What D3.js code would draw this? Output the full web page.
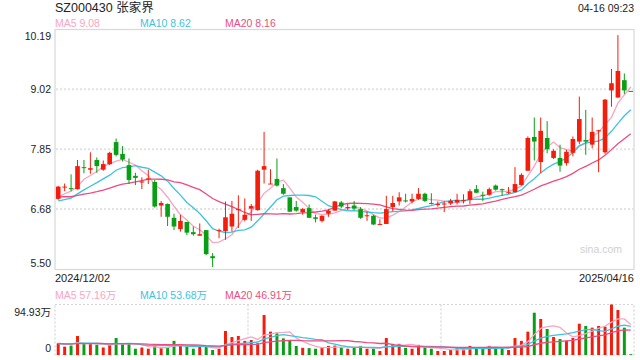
<!DOCTYPE html>
<html>
<head>
<meta charset="utf-8">
<script src="https://cdn.jsdelivr.net/npm/d3@7"></script>
<style>
  body { margin: 0; background: #fff; }
  svg { display: block; font-family: "Liberation Sans", Arial, "Noto Sans CJK SC", sans-serif; }
</style>
</head>
<body>
<svg id="chart"></svg>
<script>
// daily bars 2024/12/02 .. 2025/04/16 (90 sessions)
const open = [6.88, 7.10, 7.09, 7.07, 7.50, 7.45, 7.64, 7.45, 7.56, 7.99,
  7.76, 7.54, 7.33, 7.20, 7.26, 7.21, 6.75, 6.78, 6.51, 6.29,
  6.43, 6.23, 6.16, 6.27, 5.76, 6.25, 6.25, 6.34, 6.66, 6.47,
  6.69, 6.66, 7.45, 7.17, 7.27, 7.09, 6.91, 6.72, 6.62, 6.70,
  6.52, 6.45, 6.59, 6.65, 6.81, 6.71, 6.75, 6.68, 6.54, 6.55,
  6.38, 6.39, 6.72, 6.83, 6.85, 6.83, 6.88, 6.98, 6.80, 6.76,
  6.78, 6.79, 6.81, 6.85, 6.86, 7.07, 6.96, 6.96, 7.14, 7.07,
  7.00, 7.01, 7.15, 7.43, 8.09, 7.60, 8.07, 7.68, 7.68, 7.58,
  7.78, 8.00, 8.03, 7.94, 8.21, 7.79, 9.00, 8.86, 9.20, 8.99];
const high = [7.13, 7.18, 7.36, 7.64, 7.64, 7.79, 7.69, 7.63, 7.80, 8.06,
  7.91, 7.67, 7.39, 7.30, 7.45, 7.25, 6.84, 6.79, 6.59, 6.57,
  6.43, 6.34, 6.40, 6.27, 5.82, 6.30, 6.83, 6.84, 6.95, 6.89,
  6.78, 7.45, 8.19, 7.46, 7.67, 7.17, 6.91, 6.84, 6.70, 6.77,
  6.57, 6.56, 6.68, 6.84, 6.84, 6.78, 6.84, 6.72, 6.63, 6.57,
  6.48, 6.94, 6.94, 7.01, 6.98, 6.98, 7.09, 7.00, 6.99, 6.83,
  6.83, 6.88, 6.98, 6.97, 7.07, 7.15, 7.02, 7.10, 7.16, 7.08,
  7.11, 7.50, 7.38, 8.10, 8.47, 8.47, 8.40, 7.85, 7.94, 7.84,
  8.10, 8.88, 8.62, 8.47, 8.23, 8.83, 9.42, 10.08, 9.33, 8.99];
const low = [6.86, 7.03, 7.03, 7.06, 7.38, 7.37, 7.39, 7.43, 7.54, 7.71,
  7.61, 7.17, 7.15, 7.07, 7.17, 6.71, 6.53, 6.35, 6.27, 6.24,
  6.17, 6.16, 6.16, 5.78, 5.55, 6.11, 6.08, 6.24, 6.31, 6.44,
  6.45, 6.65, 7.18, 7.17, 7.12, 6.96, 6.62, 6.63, 6.57, 6.51,
  6.42, 6.42, 6.53, 6.65, 6.70, 6.66, 6.66, 6.49, 6.45, 6.37,
  6.38, 6.39, 6.64, 6.75, 6.81, 6.79, 6.86, 6.82, 6.77, 6.73,
  6.62, 6.76, 6.77, 6.79, 6.78, 6.99, 6.84, 6.94, 7.04, 6.94,
  6.98, 7.01, 7.14, 7.43, 7.63, 7.38, 7.77, 7.66, 7.41, 7.53,
  7.71, 7.95, 7.74, 7.87, 7.40, 7.76, 8.68, 8.86, 8.93, 8.99];
const close = [7.12, 7.12, 7.07, 7.52, 7.49, 7.48, 7.52, 7.56, 7.78, 7.74,
  7.65, 7.25, 7.29, 7.22, 7.28, 6.73, 6.80, 6.53, 6.34, 6.45,
  6.22, 6.19, 6.19, 5.80, 5.72, 6.27, 6.52, 6.59, 6.68, 6.57,
  6.74, 7.43, 7.52, 7.18, 7.14, 6.98, 6.63, 6.65, 6.68, 6.51,
  6.49, 6.55, 6.65, 6.83, 6.73, 6.72, 6.69, 6.51, 6.56, 6.38,
  6.39, 6.68, 6.80, 6.91, 6.83, 6.88, 6.98, 6.84, 6.79, 6.78,
  6.79, 6.84, 6.86, 6.86, 7.03, 7.00, 6.94, 7.07, 7.06, 7.05,
  7.01, 7.17, 7.35, 8.07, 8.00, 8.21, 7.85, 7.82, 7.53, 7.80,
  8.05, 8.44, 8.00, 8.19, 8.22, 8.82, 9.14, 9.38, 9.00, 8.99];
// volume in 万 shares
const volume = [22.0, 15.7, 17.7, 35.7, 20.3, 20.3, 19.1, 14.1, 19.1, 31.9,
  20.3, 21.0, 11.8, 14.1, 11.8, 17.7, 12.9, 14.1, 26.6, 20.3,
  15.7, 11.8, 15.7, 15.7, 9.4, 11.8, 45.1, 33.8, 35.7, 26.6,
  28.2, 22.0, 75.2, 43.9, 40.7, 31.3, 26.6, 17.1, 13.5, 12.9,
  11.8, 14.1, 17.1, 17.7, 14.1, 11.8, 14.1, 17.1, 11.8, 11.8,
  7.5, 31.9, 21.0, 21.0, 13.5, 11.8, 19.1, 14.1, 11.8, 7.5,
  7.5, 9.4, 12.9, 11.8, 17.1, 14.1, 14.1, 17.1, 12.9, 12.9,
  9.4, 31.9, 26.6, 43.9, 79.5, 67.7, 48.9, 33.8, 30.0, 26.6,
  31.9, 58.8, 54.5, 51.4, 54.5, 53.3, 94.93, 84.6, 51.4, 1.6];
// sessions before the window, only used to warm up the averages
const prevClose = [7.05, 7.10, 7.02, 6.96, 7.08, 6.98, 6.93, 6.97, 6.95, 6.96,
  6.85, 6.78, 6.70, 6.72, 6.75, 6.82, 6.82, 7.07, 6.77];
const prevVolume = [21.5, 18.0, 24.2, 19.6, 22.8, 17.4, 20.1, 25.3, 18.9, 21.7,
  23.4, 19.2, 16.8, 22.1, 20.6, 24.8, 18.3, 21.2, 26.0];

const priceTicks = [10.19, 9.02, 7.85, 6.68, 5.50];
const volTicks = [94.93, 0];
const dateLabels = ['2024/12/02', '2025/04/16'];
const maPeriods = [5, 10, 20];
const maColors = ['#f8a5c2', '#3ec3df', '#ec4d80'];
const priceLegend = ['9.08', '8.62', '8.16'];
const volLegend = ['57.16万', '53.68万', '46.91万'];

const red = '#f41d0b';
const green = '#099f14';
const width = 640;
const height = 360;
const left = 55;
const right = 634;
const price = { top: 29.5, bottom: 269.5 };
const vol = { top: 304.5, bottom: 355 };

const svg = d3.select('#chart').attr('width', width).attr('height', height);

const idx = d3.range(close.length);
const x = d3.scaleBand().domain(idx).range([left, right]);
const cx = (i) => x(i) + x.bandwidth() / 2;
const y = d3.scaleLinear().domain([5.50, 10.19]).range([price.bottom, price.top]);
const yv = d3.scaleLinear().domain([0, 94.93]).range([vol.bottom, vol.top]);

const isUp = (i) => close[i] > open[i] || (close[i] === open[i] && i > 0 && close[i] > close[i - 1]);

function movingAvg(values, prev, n) {
  const all = prev.concat(values);
  return values.map((v, i) => d3.mean(all.slice(prev.length + i - n + 1, prev.length + i + 1)));
}

// header
svg.append('text').attr('x', left).attr('y', 12)
  .attr('font-size', 12.5).attr('fill', '#222').text('SZ000430 张家界');
svg.append('text').attr('x', right).attr('y', 12).attr('text-anchor', 'end')
  .attr('font-size', 10.5).attr('fill', '#222').text('04-16 09:23');

const legendX = [left, 140, 225];
maPeriods.forEach((p, k) => {
  svg.append('text').attr('x', legendX[k]).attr('y', 27).attr('font-size', 10.5)
    .attr('fill', maColors[k]).text(`MA${p} ${priceLegend[k]}`);
  svg.append('text').attr('x', legendX[k]).attr('y', 299).attr('font-size', 10.5)
    .attr('fill', maColors[k]).text(`MA${p} ${volLegend[k]}`);
});

// price panel frame + grid
svg.append('rect').attr('x', left).attr('y', price.top)
  .attr('width', right - left).attr('height', price.bottom - price.top)
  .attr('fill', 'none').attr('stroke', '#d8d8d8').attr('stroke-width', 1.2);

svg.append('g').selectAll('line')
  .data(priceTicks.slice(1, -1))
  .join('line')
  .attr('x1', left + 1).attr('x2', right - 1)
  .attr('y1', (d) => y(d)).attr('y2', (d) => y(d))
  .attr('stroke', '#e2e2e2').attr('stroke-width', 2).attr('stroke-dasharray', '2,2');

const yAxis = svg.append('g')
  .attr('transform', `translate(${left}, 0)`)
  .call(d3.axisLeft(y).tickValues(priceTicks).tickSize(0).tickPadding(4).tickFormat(d3.format('.2f')));
yAxis.select('.domain').remove();
yAxis.selectAll('text')
  .attr('font-size', 10.5).attr('fill', '#222')
  .attr('font-family', '"Liberation Sans", Arial, sans-serif')
  .attr('dy', (d, i) => (i === 0 ? '0.95em' : i === priceTicks.length - 1 ? '-0.25em' : '0.32em'));

svg.append('text').attr('x', 622).attr('y', 253).attr('text-anchor', 'end')
  .attr('font-size', 10.5).attr('fill', '#cfcfcf').text('sina.com');

// MA lines (price)
const priceLine = d3.line().x((d, i) => cx(i)).y((d) => y(d));
maPeriods.forEach((p, k) => {
  svg.append('path')
    .attr('d', priceLine(movingAvg(close, prevClose, p)))
    .attr('fill', 'none').attr('stroke', maColors[k]).attr('stroke-width', 1.3);
});

// candles
const bodyW = x.bandwidth() * 0.72;
const candles = svg.append('g').selectAll('g').data(idx).join('g')
  .attr('fill', (i) => (isUp(i) ? red : green))
  .attr('stroke', (i) => (isUp(i) ? red : green));
candles.append('line')
  .attr('x1', (i) => cx(i)).attr('x2', (i) => cx(i))
  .attr('y1', (i) => y(high[i])).attr('y2', (i) => y(low[i]))
  .attr('stroke-width', 1);
candles.append('rect')
  .attr('x', (i) => cx(i) - bodyW / 2)
  .attr('width', bodyW)
  .attr('y', (i) => y(Math.max(open[i], close[i])))
  .attr('height', (i) => Math.max(1, Math.abs(y(open[i]) - y(close[i]))))
  .attr('stroke', 'none');

// x labels
svg.append('text').attr('x', left).attr('y', 281.5).attr('font-size', 11)
  .attr('fill', '#222').text(dateLabels[0]);
svg.append('text').attr('x', right).attr('y', 281.5).attr('text-anchor', 'end')
  .attr('font-size', 11).attr('fill', '#222').text(dateLabels[1]);

// volume panel frame (dotted)
const third = (right - left) / 3;
const volGrid = svg.append('g')
  .attr('stroke', '#d4d4d4').attr('stroke-width', 1.2).attr('stroke-dasharray', '2,2').attr('fill', 'none');
volGrid.append('rect').attr('x', left).attr('y', vol.top)
  .attr('width', right - left).attr('height', vol.bottom - vol.top);
[1, 2].forEach((k) => {
  volGrid.append('line').attr('x1', left + third * k).attr('x2', left + third * k)
    .attr('y1', vol.top).attr('y2', vol.bottom);
});

const vAxis = svg.append('g')
  .attr('transform', `translate(${left}, 0)`)
  .call(d3.axisLeft(yv).tickValues(volTicks).tickSize(0).tickPadding(4)
    .tickFormat((d) => (d ? d.toFixed(2) + '万' : '0')));
vAxis.select('.domain').remove();
vAxis.selectAll('text')
  .attr('font-size', 10.5).attr('fill', '#222')
  .attr('font-family', '"Liberation Sans", Arial, "Noto Sans CJK SC", sans-serif')
  .attr('dy', (d, i) => (i === 0 ? '1.05em' : '-0.3em'));

// volume bars
const volW = x.bandwidth() * 0.46;
svg.append('g').selectAll('rect').data(idx).join('rect')
  .attr('x', (i) => cx(i) - volW / 2)
  .attr('width', volW)
  .attr('y', (i) => yv(volume[i]))
  .attr('height', (i) => yv(0) - yv(volume[i]))
  .attr('fill', (i) => (isUp(i) ? red : green));

// MA lines (volume)
const volLine = d3.line().x((d, i) => cx(i)).y((d) => yv(d));
maPeriods.forEach((p, k) => {
  svg.append('path')
    .attr('d', volLine(movingAvg(volume, prevVolume, p)))
    .attr('fill', 'none').attr('stroke', maColors[k]).attr('stroke-width', 1.3);
});
</script>
</body>
</html>
